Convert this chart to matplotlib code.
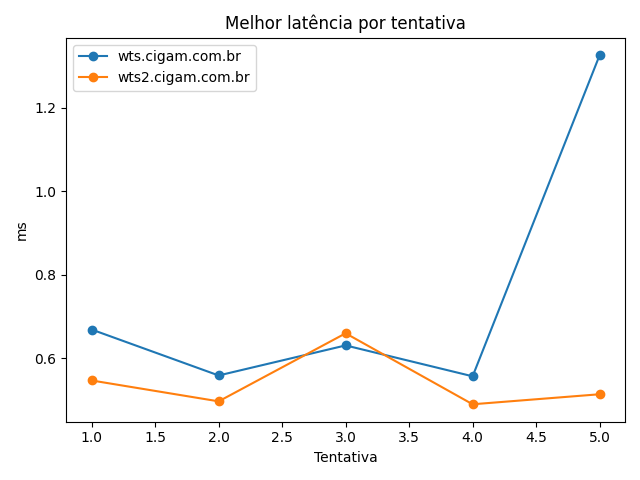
import matplotlib
matplotlib.use('Agg')
import matplotlib.pyplot as plt

tentativas = [1, 2, 3, 4, 5]
wts = [0.669, 0.559, 0.631, 0.557, 1.326]
wts2 = [0.547, 0.497, 0.660, 0.490, 0.514]

plt.figure(figsize=(6.4, 4.8), dpi=100)
plt.plot(tentativas, wts, marker='o', label='wts.cigam.com.br')
plt.plot(tentativas, wts2, marker='o', label='wts2.cigam.com.br')
plt.xlabel('Tentativa')
plt.ylabel('ms')
plt.title('Melhor latência por tentativa')
plt.legend()
plt.tight_layout()
plt.savefig('out.png')
